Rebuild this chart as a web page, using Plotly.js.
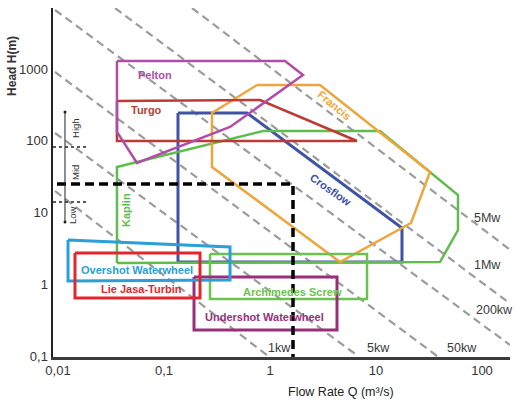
<!DOCTYPE html>
<html><head><meta charset="utf-8">
<script src="https://cdn.plot.ly/plotly-3.0.1.min.js"></script>
<style>html,body{margin:0;padding:0;background:#fff}#chart{width:515px;height:403px}</style>
</head><body><div id="chart"></div>
<script>
// ---- axis ticks ----
const xTickVals = [0.01, 0.1, 1, 10, 100];
const xTickText = ['0,01', '0,1', '1', '10', '100'];
const yTickVals = [0.1, 1, 10, 100, 1000];
const yTickText = ['0,1', '1', '10', '100', '1000'];

// ---- iso-power lines (start / end points, Q in m3/s, H in m) ----
const powerLabels = ['5Mw', '1Mw', '200kw', '50kw', '5kw', '1kw'];
const powerStartQ = [0.1837, 0.0345, 0.00937, 0.00937, 0.00937, 0.00937];
const powerStartH = [7079, 7079, 6640, 909.6, 128.6, 20.03];
const powerEndQ = [196.1, 191.9, 183.7, 37.63, 6.77, 0.957];
const powerEndH = [2.833, 0.5177, 0.1436, 0.1009, 0.1009, 0.1009];
const powerLabelQ = [113.9, 113.9, 132.6, 64.76, 10.67, 1.216];
const powerLabelH = [8.43, 1.866, 0.4407, 0.1304, 0.1304, 0.1304];

// ---- turbine application envelopes ----
const crossflowQ = [0.1355, 0.6067, 17.59, 17.59, 0.1355, 0.1355];
const crossflowH = [244.3, 244.3, 6.114, 2.055, 2.055, 244.3];
const kaplanQ = [0.036, 0.036, 0.0556, 0.859, 10.91, 32.32, 59.37, 59.37, 40.17, 0.036];
const kaplanH = [1.991, 43.24, 50.76, 137.1, 137.1, 36.83, 17.62, 5.735, 2.055, 1.991];
const francisQ = [0.754, 2.963, 32.32, 21.39, 4.575, 0.2836, 0.2836, 0.754];
const francisH = [599.5, 599.5, 36.83, 7.178, 2.055, 43.24, 244.3, 599.5];
const turgoQ = [0.036, 0.8047, 6.62, 0.036, 0.036];
const turgoH = [358.8, 370.6, 99.5, 99.5, 358.8];
const peltonQ = [0.036, 1.385, 2.048, 0.4195, 0.0556, 0.036, 0.036];
const peltonH = [1294, 1294, 826, 155.9, 49.15, 132.8, 1294];
const archimedesQ = [0.2716, 8.225, 8.225, 0.2716, 0.2716];
const archimedesH = [2.657, 2.657, 0.6276, 0.6276, 2.657];
const undershotQ = [0.1919, 4.287, 4.287, 0.1919, 0.1919];
const undershotH = [1.27, 1.27, 0.2323, 0.2323, 1.27];
const overshotQ = [0.01243, 0.4195, 0.4195, 0.01243, 0.01243];
const overshotH = [4.162, 3.325, 1.154, 1.118, 4.162];
const lieJasaQ = [0.01446, 0.2186, 0.2186, 0.01446, 0.01446];
const lieJasaH = [2.744, 2.744, 0.648, 0.648, 2.744];

// ---- site (black dashed) ----
const siteQ = [0.00979, 1.648, 1.648];
const siteH = [25, 25, 0.098];

// ---- head classes bar ----
const classBarQ = [0.01164, 0.01164];
const classBarH = [252.1, 7.41];
const classTickQ = [0.00897, 0.01877];
const classTickH = [82.1, 14.08];
const classNames = ['High', 'Mid', 'Low'];
const classLabelQ = [0.01446, 0.01446, 0.01385];
const classLabelH = [151, 36.8, 9.28];

// ---- turbine labels ----
const turbineNames = ['Pelton', 'Turgo', 'Crosflow', 'Francis', 'Kaplin', 'Overshot Waterwheel', 'Lie Jasa-Turbin', 'Archimedes Screw', 'Undershot Waterwheel'];
const turbineLabelQ = [0.0822, 0.0691, 3.763, 4.016, 0.0438, 0.0562, 0.0613, 1.613, 0.878];
const turbineLabelH = [826, 268.9, 20.68, 315.7, 10.89, 1.59, 0.865, 0.785, 0.352];
const turbineColors = ['#b24ca9', '#bd3a35', '#3f53a6', '#f0a53c', '#5ebd4c', '#2a9fd8', '#e3262e', '#6cc24e', '#9a2e7b'];
const turbineAngles = [0, 0, 35, 40, -90, 0, 0, 0, 0];

const traces = [];
for (let i = 0; i < powerLabels.length; i++) {
  traces.push({x: [powerStartQ[i], powerEndQ[i]], y: [powerStartH[i], powerEndH[i]], mode: 'lines',
    line: {color: '#9c9c9c', width: 2.2, dash: '8px,5px'}, hoverinfo: 'skip'});
}
function poly(q, h, color, w) {
  traces.push({x: q, y: h, mode: 'lines', line: {color: color, width: w || 2.5}, hoverinfo: 'skip'});
}
poly(crossflowQ, crossflowH, turbineColors[2], 3);
poly(kaplanQ, kaplanH, turbineColors[4]);
poly(francisQ, francisH, turbineColors[3]);
poly(turgoQ, turgoH, turbineColors[1]);
poly(peltonQ, peltonH, turbineColors[0]);
poly(archimedesQ, archimedesH, turbineColors[7]);
poly(undershotQ, undershotH, turbineColors[8], 3);
poly(overshotQ, overshotH, turbineColors[5], 3);
poly(lieJasaQ, lieJasaH, turbineColors[6], 3);
traces.push({x: siteQ, y: siteH, mode: 'lines', line: {color: '#000', width: 3.5, dash: '9px,5px'}, hoverinfo: 'skip'});
traces.push({x: classBarQ, y: classBarH, mode: 'lines+markers', line: {color: '#222', width: 1},
  marker: {color: '#222', size: 3}, hoverinfo: 'skip'});
for (let i = 0; i < classTickH.length; i++) {
  traces.push({x: classTickQ, y: [classTickH[i], classTickH[i]], mode: 'lines',
    line: {color: '#222', width: 1.5, dash: 'dot'}, hoverinfo: 'skip'});
}

const annotations = [];
for (let i = 0; i < turbineNames.length; i++) {
  annotations.push({x: Math.log10(turbineLabelQ[i]), y: Math.log10(turbineLabelH[i]), xref: 'x', yref: 'y',
    text: '<b>' + turbineNames[i] + '</b>', showarrow: false, textangle: turbineAngles[i],
    xanchor: 'center', yanchor: 'middle', font: {size: 11, color: turbineColors[i]}});
}
for (let i = 0; i < powerLabels.length; i++) {
  annotations.push({x: Math.log10(powerLabelQ[i]), y: Math.log10(powerLabelH[i]), xref: 'x', yref: 'y',
    text: powerLabels[i], showarrow: false, xanchor: 'center', yanchor: 'middle',
    font: {size: 12.5, color: '#3a3a3a'}});
}
for (let i = 0; i < classNames.length; i++) {
  annotations.push({x: Math.log10(classLabelQ[i]), y: Math.log10(classLabelH[i]), xref: 'x', yref: 'y',
    text: classNames[i], showarrow: false, textangle: -90, xanchor: 'center', yanchor: 'middle',
    font: {size: 9.5, color: '#333'}});
}
annotations.push({x: -0.0897, y: 0.834, xref: 'paper', yref: 'paper', text: '<b>Head H(m)</b>',
  showarrow: false, textangle: -90, xanchor: 'center', yanchor: 'middle', font: {size: 12, color: '#333'}});
annotations.push({x: 0.630, y: -0.1003, xref: 'paper', yref: 'paper', text: 'Flow Rate Q (m³/s)',
  showarrow: false, xanchor: 'center', yanchor: 'middle', font: {size: 12.5, color: '#222'}});

const layout = {
  width: 515, height: 403,
  margin: {l: 53, r: 5, t: 8, b: 46},
  paper_bgcolor: '#fff', plot_bgcolor: '#fff',
  showlegend: false, hovermode: false,
  font: {family: 'Liberation Sans, Arial, sans-serif', size: 13, color: '#333'},
  xaxis: {type: 'log', range: [-2.0472, 2.2642], tickvals: xTickVals, ticktext: xTickText,
    showgrid: false, zeroline: false, showline: true, linecolor: '#3a3a3a', linewidth: 2.5,
    ticks: '', tickfont: {size: 13, color: '#333'}, fixedrange: true},
  yaxis: {type: 'log', range: [-1.01, 3.85], tickvals: yTickVals, ticktext: yTickText,
    showgrid: false, zeroline: false, showline: true, linecolor: '#222', linewidth: 2.5,
    ticks: '', tickfont: {size: 13, color: '#333'}, fixedrange: true},
  annotations: annotations
};
Plotly.newPlot('chart', traces, layout, {displayModeBar: false, staticPlot: true});
</script>
</body></html>
